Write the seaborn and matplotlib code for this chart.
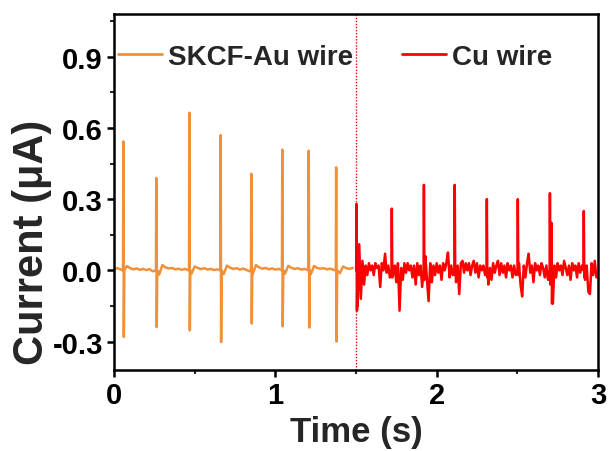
import numpy as np
import pandas as pd
import seaborn as sns
import matplotlib
matplotlib.use("Agg")
import matplotlib.pyplot as plt
from matplotlib.lines import Line2D
from matplotlib.ticker import MultipleLocator

# ---------------- data ----------------
# SKCF-Au wire: spikes (time s, peak uA, trough uA)
au_spike_t = [0.058, 0.262, 0.467, 0.661, 0.851, 1.043, 1.207, 1.377]
au_spike_peak = [0.543, 0.389, 0.664, 0.570, 0.407, 0.508, 0.504, 0.434]
au_spike_trough = [-0.281, -0.239, -0.253, -0.302, -0.224, -0.236, -0.241, -0.300]
# SKCF-Au baseline, sampled every 0.02 s from 0.00 to 1.48 s
au_base_step = 0.02
au_base = [0.006, 0.009, 0.004, -0.012, 0.018, 0.009, 0.004, 0.008, 0.002, 0.006,
           0.001, 0.005, -0.004, -0.010, -0.018, 0.022, 0.012, 0.008, 0.010, 0.004,
           0.007, 0.002, 0.006, -0.003, -0.015, 0.016, 0.010, 0.005, 0.009, 0.003,
           0.006, 0.001, 0.004, -0.010, -0.016, 0.020, 0.011, 0.006, 0.009, 0.003,
           0.007, 0.002, -0.004, -0.015, 0.022, 0.012, 0.007, 0.010, 0.004, 0.008,
           0.003, 0.006, -0.010, -0.014, 0.019, 0.010, 0.006, 0.009, 0.003, 0.006,
           -0.010, -0.016, 0.018, 0.010, 0.007, 0.009, 0.004, 0.007, 0.002, -0.010,
           -0.012, 0.016, 0.009, 0.006, 0.010]

# Cu wire: spikes (time s, peak uA, trough uA)
cu_spike_t = [1.503, 1.722, 1.921, 2.112, 2.311, 2.503, 2.702, 2.712, 2.912]
cu_spike_peak = [0.280, 0.260, 0.360, 0.360, 0.300, 0.300, 0.325, 0.200, 0.250]
cu_spike_trough = [-0.170, -0.030, -0.040, -0.020, -0.030, -0.020, -0.060, -0.140, -0.030]
# Cu baseline, sampled every 0.01 s from 1.50 to 2.99 s
cu_base_start = 1.50
cu_base_step = 0.01
cu_base = [-0.05, -0.15, 0.11, -0.12, 0.04, -0.06, 0.02, -0.02, 0.03, 0.00,
           0.02, -0.02, 0.03, 0.01, 0.02, -0.07, 0.03, 0.00, 0.07, -0.01,
           0.02, -0.03, 0.04, -0.02, 0.02, -0.05, 0.03, -0.17, 0.01, -0.04,
           0.03, -0.01, 0.03, 0.00, 0.02, -0.03, 0.02, -0.06, 0.03, -0.02,
           0.02, -0.07, 0.05, 0.06, -0.04, -0.13, 0.03, -0.05, 0.02, -0.02,
           0.03, -0.01, 0.02, -0.04, 0.03, 0.00, 0.03, 0.075, -0.03, 0.02,
           -0.02, 0.03, -0.05, 0.02, -0.10, 0.03, 0.04, -0.01, 0.03, 0.00,
           0.03, -0.02, 0.02, 0.04, -0.01, 0.03, -0.03, 0.02, 0.00, 0.02,
           -0.02, 0.02, -0.06, 0.01, -0.04, 0.03, -0.01, 0.02, 0.04, -0.02,
           0.03, -0.01, 0.02, -0.03, 0.03, 0.00, 0.02, -0.03, 0.02, -0.02,
           0.03, 0.03, -0.06, -0.11, 0.02, -0.03, 0.03, 0.07, -0.01, 0.02,
           -0.05, 0.03, 0.00, 0.02, -0.02, 0.03, 0.01, -0.03, 0.02, -0.04,
           0.03, 0.00, -0.14, 0.02, -0.03, 0.03, 0.00, 0.02, -0.02, 0.04,
           0.01, -0.02, 0.02, -0.04, 0.03, 0.00, 0.02, -0.03, 0.03, -0.01,
           0.02, -0.02, -0.04, 0.02, -0.09, -0.10, 0.03, -0.02, 0.04, -0.03]

labels = ["SKCF-Au wire", "Cu wire"]
x_ticks = [0, 1, 2, 3]
y_ticks = [-0.3, 0.0, 0.3, 0.6, 0.9]
boundary_t = 1.5


def build_trace(base_t, base_v, sp_t, sp_p, sp_tr, gap):
    base_t = np.asarray(base_t, float)
    base_v = np.asarray(base_v, float)
    sp_t = np.asarray(sp_t, float)
    dist = np.min(np.abs(base_t[:, None] - sp_t[None, :]), axis=1)
    keep = dist > gap
    t = list(base_t[keep])
    v = list(base_v[keep])
    for ts, p, tr in zip(sp_t, sp_p, sp_tr):
        t += [ts - 0.002, ts, ts + 0.003, ts + 0.006]
        v += [0.0, p, tr, 0.0]
    order = np.argsort(t, kind="stable")
    return np.asarray(t)[order], np.asarray(v)[order]


au_t_grid = np.round(np.arange(len(au_base)) * au_base_step, 4)
cu_t_grid = np.round(cu_base_start + np.arange(len(cu_base)) * cu_base_step, 4)
au_t, au_v = build_trace(au_t_grid, au_base, au_spike_t, au_spike_peak, au_spike_trough, 0.008)
cu_t, cu_v = build_trace(cu_t_grid, cu_base, cu_spike_t, cu_spike_peak, cu_spike_trough, 0.004)

df_au = pd.DataFrame({"Time": au_t, "Current": au_v})
df_cu = pd.DataFrame({"Time": cu_t, "Current": cu_v})

# ---------------- style ----------------
sns.set_style("ticks")
plt.rcParams["font.family"] = ["Liberation Sans", "DejaVu Sans"]
plt.rcParams["font.weight"] = "bold"

orange = "#F0913A"
red = "#FF0000"

fig = plt.figure(figsize=(6.11, 4.52), dpi=100)
ax = fig.add_axes([114 / 611, 1 - 371 / 452, 484 / 611, 356 / 452])

sns.lineplot(data=df_au, x="Time", y="Current", ax=ax, color=orange, lw=1.8,
             estimator=None, sort=False)
sns.lineplot(data=df_cu, x="Time", y="Current", ax=ax, color=red, lw=1.8,
             estimator=None, sort=False)
ax.axvline(boundary_t, color="#D01010", ls=(0, (1, 1.2)), lw=1.0)

ax.set_xlim(0, 3)
ax.set_ylim(-0.42, 1.08)
ax.set_xticks(x_ticks)
ax.set_xticklabels([str(v) for v in x_ticks])
ax.set_yticks(y_ticks)
ax.set_yticklabels([f"{v:.1f}" for v in y_ticks])
ax.xaxis.set_minor_locator(MultipleLocator(0.5))
ax.yaxis.set_minor_locator(MultipleLocator(0.15))

for s in ax.spines.values():
    s.set_visible(True)
    s.set_linewidth(1.8)
    s.set_color("black")
ax.tick_params(which="major", length=5, width=1.8, direction="out", pad=3,
               labelsize=21, colors="black")
ax.tick_params(which="minor", length=3, width=1.5, direction="out")
for lab in ax.get_xticklabels() + ax.get_yticklabels():
    lab.set_fontweight("bold")

ax.set_xlabel("Time (s)", fontsize=25, fontweight="bold", labelpad=4)
ax.set_ylabel("Current (μA)", fontsize=30, fontweight="bold")
ax.yaxis.set_label_coords(-0.128, 0.36)

if ax.get_legend() is not None:
    ax.get_legend().remove()

h1 = [Line2D([0], [0], color=orange, lw=2.0)]
h2 = [Line2D([0], [0], color=red, lw=2.0)]
leg1 = ax.legend(h1, [labels[0]], loc="center left", bbox_to_anchor=(0.008, 0.879),
                 frameon=False, borderpad=0, borderaxespad=0, handlelength=1.6,
                 handletextpad=0.2, prop={"size": 20, "weight": "bold"})
ax.add_artist(leg1)
leg2 = ax.legend(h2, [labels[1]], loc="center left", bbox_to_anchor=(0.595, 0.879),
                 frameon=False, borderpad=0, borderaxespad=0, handlelength=1.6,
                 handletextpad=0.2, prop={"size": 20, "weight": "bold"})

fig.savefig("out.png", dpi=100)
